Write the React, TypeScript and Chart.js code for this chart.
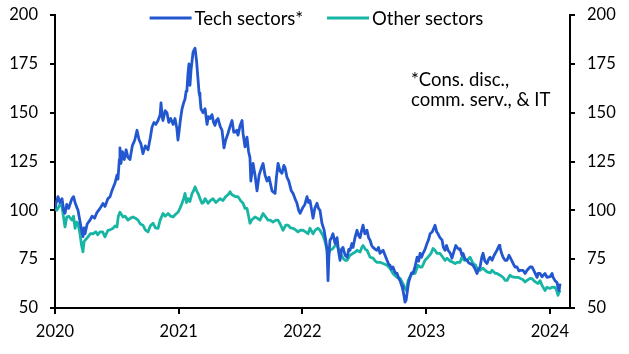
import React, { useEffect, useRef } from "react";
import { Chart, registerables } from "chart.js";

Chart.register(...registerables);

const BASE_YEAR = 2020;
const X_MAX = 2024.163;
const Y_TICKS = [50, 75, 100, 125, 150, 175, 200];
const X_TICKS = [2020, 2021, 2022, 2023, 2024];

const seriesNames = ["Tech sectors*", "Other sectors"];
const seriesColors = ["#2257D0", "#17B5A4"];
const noteLines = ["*Cons. disc.,", "comm. serv., & IT"];

// time offsets (years since 2020) and index values
const techT = [
  0.000, 0.010, 0.024, 0.040, 0.057, 0.070, 0.081, 0.095, 0.110, 0.137, 0.150, 0.162, 0.180, 0.186, 0.200, 0.215,
  0.226, 0.235, 0.243, 0.260, 0.283, 0.300, 0.320, 0.340, 0.364, 0.388, 0.404, 0.428, 0.445, 0.460, 0.485, 0.501,
  0.509, 0.520, 0.525, 0.533, 0.545, 0.560, 0.575, 0.590, 0.606, 0.625, 0.645, 0.663, 0.680, 0.695, 0.711, 0.730,
  0.752, 0.770, 0.784, 0.800, 0.815, 0.833, 0.850, 0.857, 0.866, 0.873, 0.890, 0.905, 0.920, 0.935, 0.955, 0.970,
  0.985, 0.994, 1.002, 1.015, 1.027, 1.040, 1.051, 1.060, 1.067, 1.075, 1.083, 1.091, 1.100, 1.116, 1.132, 1.145,
  1.156, 1.165, 1.172, 1.180, 1.196, 1.213, 1.229, 1.240, 1.255, 1.269, 1.282, 1.293, 1.305, 1.318, 1.335, 1.350,
  1.366, 1.380, 1.399, 1.415, 1.431, 1.445, 1.455, 1.470, 1.479, 1.495, 1.512, 1.520, 1.536, 1.552, 1.565, 1.576,
  1.583, 1.601, 1.617, 1.633, 1.650, 1.670, 1.682, 1.698, 1.714, 1.730, 1.754, 1.779, 1.790, 1.803, 1.820, 1.835,
  1.850, 1.859, 1.875, 1.890, 1.910, 1.924, 1.940, 1.956, 1.970, 1.981, 2.005, 2.020, 2.037, 2.050, 2.061, 2.075,
  2.086, 2.100, 2.118, 2.130, 2.142, 2.158, 2.175, 2.190, 2.199, 2.207, 2.215, 2.223, 2.235, 2.247, 2.264, 2.280,
  2.292, 2.304, 2.316, 2.328, 2.345, 2.361, 2.375, 2.385, 2.400, 2.409, 2.425, 2.441, 2.455, 2.466, 2.480, 2.490,
  2.505, 2.522, 2.535, 2.547, 2.560, 2.571, 2.590, 2.603, 2.615, 2.627, 2.652, 2.668, 2.684, 2.700, 2.708, 2.720,
  2.732, 2.750, 2.765, 2.780, 2.789, 2.805, 2.813, 2.822, 2.829, 2.838, 2.846, 2.858, 2.870, 2.882, 2.894, 2.910,
  2.927, 2.940, 2.951, 2.963, 2.975, 2.991, 3.007, 3.020, 3.032, 3.050, 3.072, 3.085, 3.096, 3.112, 3.129, 3.140,
  3.153, 3.165, 3.177, 3.195, 3.209, 3.225, 3.240, 3.250, 3.265, 3.274, 3.290, 3.298, 3.315, 3.331, 3.345, 3.355,
  3.379, 3.395, 3.411, 3.425, 3.436, 3.450, 3.460, 3.475, 3.492, 3.505, 3.517, 3.533, 3.550, 3.573, 3.590, 3.597,
  3.610, 3.622, 3.638, 3.654, 3.670, 3.678, 3.694, 3.703, 3.719, 3.735, 3.750, 3.759, 3.783, 3.800, 3.816, 3.840,
  3.856, 3.870, 3.897, 3.905, 3.921, 3.937, 3.961, 3.977, 4.002, 4.018, 4.026, 4.042, 4.058, 4.066, 4.075, 4.083,
];
const techV = [
  101, 104, 107, 104, 106, 100, 98.5, 103, 101, 106, 107, 104, 101, 100, 95, 90,
  86.5, 91, 88, 93, 95, 97, 96, 99, 101, 103.5, 102, 106, 107, 110, 114, 118,
  116, 126, 132, 124, 130, 126, 131, 127, 126, 133, 136, 141, 136, 134, 129, 133,
  131, 137, 142.5, 145, 144, 146, 149, 155, 148, 146, 151, 150, 145, 147, 144, 147,
  142, 136, 140, 147, 152, 155, 157, 161, 162, 170, 175, 164, 172, 181, 183, 176,
  167, 160, 158, 152, 150, 152, 144, 148, 147, 149, 145, 143.5, 146, 147, 143, 141,
  132, 136, 139.5, 143, 146, 140, 140, 141, 138.5, 143, 146, 139.5, 132.5, 137.5, 130, 127,
  115, 124, 118, 110, 118, 122, 124, 118, 115, 117, 110, 108.7, 117, 124, 120, 119,
  123, 122, 117, 115, 110, 108.7, 106, 103.6, 100, 98.5, 101.6, 103, 107, 104, 105, 100,
  96, 101, 103.6, 101, 100, 93.4, 90, 84, 79.6, 64, 78, 84.7, 86, 88, 83, 86,
  79, 74.4, 80, 81, 77, 76, 80, 79.6, 83, 81, 86, 89.8, 87, 86, 90, 92.4,
  88, 89.8, 86, 84.7, 82, 81, 80, 79.6, 81, 78, 79.6, 77, 74.4, 72, 71.9, 70,
  71, 68, 67.7, 65, 64, 61, 59, 56, 53, 54, 57.5, 63, 65.7, 68, 67.7, 71,
  76, 74, 78, 76, 78, 80, 83, 85, 88, 89, 92.4, 89, 88, 86, 84.7, 81,
  79.6, 82, 79.6, 78, 75.5, 79, 82, 81, 80, 80.4, 77, 78, 75, 74.4, 73, 72.8,
  71.9, 70, 67.7, 70, 71, 76, 78, 74, 72.8, 75, 76, 74.4, 77, 79.6, 82, 81,
  78, 76, 74.4, 74.4, 77, 76, 74, 72.8, 71, 71, 69, 69.3, 69.3, 67.7, 69.3, 71,
  71, 69.3, 65.7, 67.7, 67.7, 66, 67.7, 65.7, 66, 67.7, 65.7, 64, 63, 60.6, 59, 62.5,
];

const otherT = [
  0.000, 0.012, 0.024, 0.040, 0.057, 0.070, 0.081, 0.095, 0.110, 0.137, 0.150, 0.162, 0.175, 0.186, 0.202, 0.215,
  0.226, 0.235, 0.243, 0.267, 0.285, 0.307, 0.330, 0.345, 0.364, 0.385, 0.404, 0.428, 0.445, 0.469, 0.485, 0.501,
  0.512, 0.525, 0.550, 0.566, 0.590, 0.610, 0.631, 0.650, 0.671, 0.690, 0.711, 0.730, 0.752, 0.770, 0.792, 0.812,
  0.833, 0.850, 0.873, 0.890, 0.914, 0.935, 0.954, 0.975, 0.994, 1.010, 1.027, 1.040, 1.051, 1.063, 1.075, 1.090,
  1.108, 1.120, 1.132, 1.145, 1.156, 1.172, 1.188, 1.200, 1.213, 1.237, 1.255, 1.277, 1.300, 1.318, 1.335, 1.358,
  1.380, 1.399, 1.415, 1.430, 1.439, 1.460, 1.479, 1.500, 1.520, 1.536, 1.552, 1.565, 1.576, 1.590, 1.617, 1.635,
  1.657, 1.682, 1.698, 1.722, 1.740, 1.762, 1.785, 1.803, 1.820, 1.843, 1.865, 1.884, 1.905, 1.924, 1.945, 1.964,
  1.981, 2.005, 2.025, 2.045, 2.061, 2.086, 2.105, 2.126, 2.142, 2.158, 2.167, 2.183, 2.199, 2.207, 2.215, 2.223,
  2.247, 2.265, 2.280, 2.292, 2.304, 2.316, 2.328, 2.345, 2.361, 2.375, 2.385, 2.409, 2.425, 2.441, 2.455, 2.466,
  2.480, 2.490, 2.510, 2.522, 2.547, 2.571, 2.590, 2.603, 2.627, 2.652, 2.684, 2.708, 2.732, 2.750, 2.765, 2.789,
  2.813, 2.830, 2.838, 2.846, 2.854, 2.870, 2.886, 2.910, 2.935, 2.951, 2.967, 2.991, 3.015, 3.040, 3.056, 3.072,
  3.088, 3.112, 3.135, 3.153, 3.169, 3.195, 3.217, 3.234, 3.250, 3.274, 3.290, 3.310, 3.331, 3.355, 3.379, 3.400,
  3.411, 3.436, 3.460, 3.492, 3.520, 3.533, 3.560, 3.573, 3.597, 3.622, 3.638, 3.654, 3.678, 3.694, 3.719, 3.743,
  3.759, 3.783, 3.800, 3.816, 3.840, 3.856, 3.880, 3.905, 3.921, 3.937, 3.961, 3.977, 4.002, 4.018, 4.042, 4.055,
  4.066, 4.075, 4.083,
];
const otherV = [
  103.6, 100, 101, 103, 101.8, 96, 91.5, 96.6, 97, 95, 97, 90.8, 94, 93.4, 88, 82,
  78.7, 84, 84.7, 86.4, 88, 88, 89, 87.5, 89, 89, 86.4, 89.8, 90, 90.8, 92, 91.5,
  97, 99, 96.6, 97, 95, 96, 96.6, 96, 95, 93, 92.4, 90, 89, 92, 93.4, 91,
  90.8, 95, 98.4, 97, 98.4, 97, 96.6, 98, 99, 101, 103.6, 106, 108.7, 104, 106, 104.5,
  108.7, 110, 112, 110, 108.7, 106, 103.6, 104, 106, 103.6, 105, 106, 104, 105, 106, 105,
  107, 108, 109.5, 108, 107.7, 107, 107, 105, 103.6, 101, 101, 97, 93.4, 95, 96.6, 96,
  95, 98.4, 97, 95, 95, 94, 95, 95, 93, 89.8, 92.4, 92.4, 91, 90.8, 90, 89,
  89.8, 89.8, 89, 88, 90.8, 88, 90, 90.8, 89.8, 88, 87, 84, 79.6, 73, 78, 79.6,
  80.5, 82, 82, 80, 79.6, 77, 75.5, 74.4, 74.4, 76, 77, 78, 78.5, 79.6, 79, 78.7,
  81, 82, 80, 79.6, 76, 75.5, 74, 73.4, 73.4, 72.8, 71.9, 70.3, 67.7, 66.5, 65.7, 65.2,
  62.5, 60, 59, 61, 64, 66, 67.7, 67.7, 71.9, 71, 71, 74.4, 76, 78, 80.5, 79.6,
  78, 78, 76, 74.4, 75.5, 74, 73.4, 72.7, 73.4, 73.4, 76, 74.4, 74.4, 76, 72.8, 71.9,
  70.4, 69.3, 70.4, 68.5, 68, 69.3, 67.7, 67.7, 66.8, 65.7, 64.2, 64.1, 66.8, 66, 65.7, 65.7,
  65.2, 64.5, 63.3, 64.1, 65.2, 65, 63.5, 62.5, 64, 61.6, 59, 60.6, 60, 60.7, 60.6, 59,
  56.5, 58, 59,
];

const FONT = "Lato, 'Open Sans', sans-serif";

const overlayPlugin = {
  id: "overlay",
  afterDraw(chart: any) {
    const { ctx, chartArea } = chart;
    ctx.save();
    ctx.font = `18.5px ${FONT}`;
    ctx.textBaseline = "middle";
    ctx.textAlign = "left";
    ctx.fillStyle = "#000";
    // legend
    const lineLen = 42;
    const gapLineText = 3;
    const gapItems = 24;
    const widths = seriesNames.map((n) => ctx.measureText(n).width);
    const total = widths.reduce((a, w) => a + lineLen + gapLineText + w, 0) + gapItems;
    let x = (chartArea.left + chartArea.right) / 2 + 4 - total / 2;
    const y = chartArea.top + 3;
    seriesNames.forEach((name, i) => {
      ctx.strokeStyle = seriesColors[i];
      ctx.lineWidth = 2.8;
      ctx.beginPath();
      ctx.moveTo(x, y);
      ctx.lineTo(x + lineLen, y);
      ctx.stroke();
      ctx.fillText(name, x + lineLen + gapLineText, y + 1);
      x += lineLen + gapLineText + widths[i] + gapItems;
    });
    // note
    noteLines.forEach((line, i) => {
      ctx.fillText(line, chartArea.left + 356, chartArea.top + 65 + i * 20);
    });
    ctx.restore();
  },
};

export default function App() {
  const ref = useRef<HTMLCanvasElement | null>(null);
  useEffect(() => {
    if (!ref.current) return;
    const tickFont = { family: FONT, size: 16.5 };
    const yScale = (position: string, width: number) => ({
      type: "linear",
      position,
      min: 50,
      max: 200,
      border: { display: true, color: "#000", width: 2 },
      grid: { drawOnChartArea: false, drawTicks: true, tickLength: 5, color: "#000", lineWidth: 2 },
      ticks: { stepSize: 25, color: "#000", font: tickFont, padding: 12 },
      afterBuildTicks: (s: any) => {
        s.ticks = Y_TICKS.map((v) => ({ value: v }));
      },
      afterFit: (s: any) => {
        s.width = width;
        s.paddingTop = 0;
        s.paddingBottom = 0;
      },
    });
    const chart = new Chart(ref.current, {
      type: "line",
      data: {
        datasets: [
          {
            label: seriesNames[0],
            data: techT.map((t, i) => ({ x: BASE_YEAR + t, y: techV[i] })),
            borderColor: seriesColors[0],
            borderWidth: 2.8,
            pointRadius: 0,
            tension: 0,
            borderJoinStyle: "round",
            yAxisID: "y",
          },
          {
            label: seriesNames[1],
            data: otherT.map((t, i) => ({ x: BASE_YEAR + t, y: otherV[i] })),
            borderColor: seriesColors[1],
            borderWidth: 2.8,
            pointRadius: 0,
            tension: 0,
            borderJoinStyle: "round",
            yAxisID: "y",
          },
        ],
      },
      options: {
        responsive: false,
        animation: false,
        events: [],
        layout: { padding: { top: 15, left: 0, right: 0, bottom: 0 } },
        plugins: { legend: { display: false }, tooltip: { enabled: false } },
        scales: {
          x: {
            type: "linear",
            min: BASE_YEAR,
            max: X_MAX,
            border: { display: true, color: "#000", width: 2 },
            grid: { drawOnChartArea: false, drawTicks: true, tickLength: 6, color: "#000", lineWidth: 2 },
            ticks: { color: "#000", font: tickFont, padding: 8, callback: (v: any) => String(v) },
            afterBuildTicks: (s: any) => {
              s.ticks = X_TICKS.map((v) => ({ value: v }));
            },
            afterFit: (s: any) => {
              s.height = 46;
              s.paddingLeft = 0;
              s.paddingRight = 0;
            },
          },
          y: yScale("left", 55) as any,
          y2: yScale("right", 59) as any,
        },
      } as any,
      plugins: [overlayPlugin],
    });
    return () => chart.destroy();
  }, []);
  return (
    <div style={{ position: "fixed", left: 0, top: 0, width: 629, height: 354, background: "#fff" }}>
      <canvas ref={ref} width={629} height={354} style={{ width: 629, height: 354, display: "block" }} />
    </div>
  );
}
